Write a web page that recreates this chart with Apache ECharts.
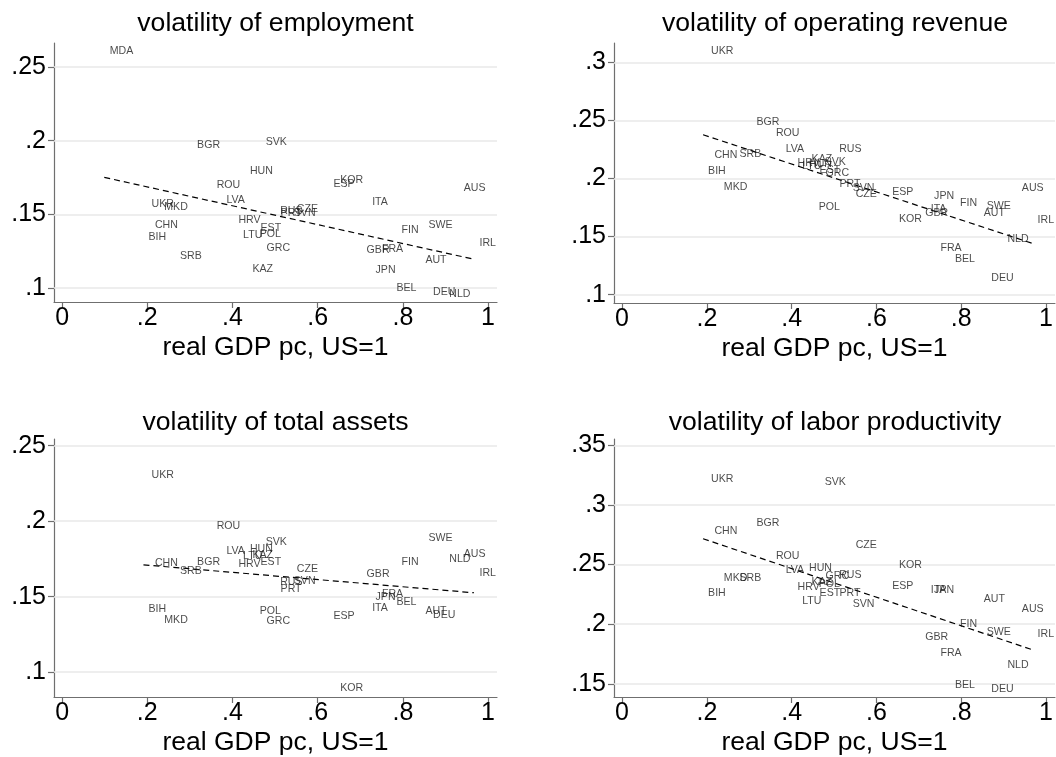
<!DOCTYPE html>
<html><head><meta charset="utf-8">
<script src="https://cdn.jsdelivr.net/npm/echarts@6/dist/echarts.min.js"></script>
<style>html,body{margin:0;padding:0;background:#fff}#c{width:1056px;height:757px}</style>
</head><body><div id="c"></div>
<script>
const countries = ['AUS','AUT','BEL','BGR','BIH','CHN','CZE','DEU','ESP','EST','FIN','FRA','GBR','GRC','HRV','HUN','IRL','ITA','JPN','KAZ','KOR','LTU','LVA','MDA','MKD','NLD','POL','PRT','ROU','RUS','SRB','SVK','SVN','SWE','UKR'];
const gdp       = [.930,.840,.772,.304,.190,.205,.538,.858,.624,.453,.784,.738,.702,.467,.401,.428,.967,.715,.723,.434,.640,.412,.373,.099,.227,.896,.451,.500,.350,.499,.264,.465,.531,.847,.197];
const volEmp    = [.1677,.1190,.1000,.1968,.1346,.1425,.1533,.0970,.1706,.1409,.1393,.1266,.1260,.1269,.1461,.1792,.1303,.1583,.1122,.1131,.1733,.1359,.1595,.2610,.1548,.0959,.1364,.1507,.1699,.1524,.1215,.1989,.1511,.1425,.1568];
const volRev    = [.1914,.1698,.1304,.2483,.2060,.2201,.1862,.1141,.1879,.2072,.1787,.1405,.1704,.2046,.2129,.2125,.1640,.1738,.1845,.2164,.1647,.2109,.2250,null,.1922,.1477,.1750,.1954,.2388,.2250,.2212,.2138,.1920,.1761,.3100];
const volAssets = [.1783,.1403,.1467,.1728,.1419,.1722,.1682,.1377,.1373,.1728,.1728,.1515,.1651,.1336,.1715,.1816,.1658,.1426,.1498,.1776,.0893,.1772,.1801,null,.1342,.1748,.1408,.1553,.1967,.1597,.1669,.1860,.1601,.1886,.2305];
const volProd   = [.2124,.2207,.1491,.2851,.2260,.2781,.2667,.1457,.2316,.2260,.1998,.1756,.1890,.2405,.2313,.2475,.1917,.2283,.2283,.2355,.2494,.2193,.2450,null,.2383,.1656,.2338,.2260,.2569,.2411,.2383,.3194,.2166,.1934,.3219];

const fitEmp    = [[0.099,0.1751],[0.967,0.1195]];
const fitRev    = [[0.191,0.2376],[0.967,0.1442]];
const fitAssets = [[0.191,0.1711],[0.967,0.1526]];
const fitProd   = [[0.191,0.2717],[0.967,0.1786]];

const titles = ['volatility of employment','volatility of operating revenue','volatility of total assets','volatility of labor productivity'];
const xTicks = [0,0.2,0.4,0.6,0.8,1];
const xTickLabels = ['0','.2','.4','.6','.8','1'];
const yTicks1 = [0.1,0.15,0.2,0.25];       const yLab1 = ['.1','.15','.2','.25'];
const yTicks2 = [0.1,0.15,0.2,0.25,0.3];   const yLab2 = ['.1','.15','.2','.25','.3'];
const yTicks3 = [0.1,0.15,0.2,0.25];       const yLab3 = ['.1','.15','.2','.25'];
const yTicks4 = [0.15,0.2,0.25,0.3,0.35];  const yLab4 = ['.15','.2','.25','.3','.35'];
const xTitle = 'real GDP pc, US=1';

const FONT = '"Liberation Sans", Arial, Helvetica, sans-serif';
const grids = [
  {left:54, top:43, width:443, height:259},
  {left:614, top:43, width:442, height:260},
  {left:54, top:439, width:443, height:260},
  {left:614, top:439, width:442, height:259}
];
const yRanges = [[0.0905,0.2663],[0.0928,0.3166],[0.0836,0.2544],[0.1389,0.3554]];
const yTickSets = [[yTicks1,yLab1],[yTicks2,yLab2],[yTicks3,yLab3],[yTicks4,yLab4]];
const vals = [volEmp, volRev, volAssets, volProd];
const fits = [fitEmp, fitRev, fitAssets, fitProd];
const titleTops = [10, 10, 409, 409];

function lab(vs, ls) { return v => { const i = vs.findIndex(t => Math.abs(t - v) < 1e-9); return i >= 0 ? ls[i] : ''; }; }
function makeData(arr) {
  const out = [];
  countries.forEach((c, i) => { if (arr[i] != null) out.push([gdp[i], arr[i], c]); });
  return out;
}
const axisCol = '#6f6f6f';
const option = {
  animation: false,
  backgroundColor: '#fff',
  title: titles.map((t, i) => ({
    text: t, left: grids[i].left + grids[i].width / 2, top: titleTops[i], textAlign: 'center', padding: 0,
    textStyle: {fontFamily: FONT, fontSize: 26.6, fontWeight: 'normal', color: '#000'}
  })),
  grid: grids,
  xAxis: grids.map((g, i) => ({
    type: 'value', gridIndex: i, min: -0.019, max: 1.021,
    name: xTitle, nameLocation: 'middle', nameGap: 32,
    nameTextStyle: {fontFamily: FONT, fontSize: 26.5, color: '#000'},
    axisLine: {show: true, onZero: false, lineStyle: {color: axisCol, width: 1.2}},
    axisTick: {show: true, length: 6, customValues: xTicks, lineStyle: {color: axisCol, width: 1.2}},
    axisLabel: {customValues: xTicks, formatter: lab(xTicks, xTickLabels), margin: 4, fontFamily: FONT, fontSize: 25, color: '#000'},
    splitLine: {show: false}
  })),
  yAxis: grids.map((g, i) => ({
    type: 'value', gridIndex: i, min: yRanges[i][0], max: yRanges[i][1],
    axisLine: {show: true, onZero: false, lineStyle: {color: axisCol, width: 1.2}},
    axisTick: {show: true, length: 6, customValues: yTickSets[i][0], lineStyle: {color: axisCol, width: 1.2}},
    axisLabel: {customValues: yTickSets[i][0], formatter: lab(yTickSets[i][0], yTickSets[i][1]), margin: 8, fontFamily: FONT, fontSize: 25, color: '#000'},
    splitLine: {show: false}
  })),
  series: []
};
grids.forEach((g, i) => {
  option.series.push({
    type: 'line', xAxisIndex: i, yAxisIndex: i, data: fits[i], z: 2,
    symbol: 'none', silent: true,
    lineStyle: {color: '#000', width: 1.2, type: [6, 4]},
    markLine: {
      silent: true, z: 1, symbol: ['none', 'none'], label: {show: false},
      lineStyle: {color: '#e8e8e8', type: 'solid', width: 1.5},
      data: yTickSets[i][0].map(v => ({yAxis: v}))
    }
  });
  option.series.push({
    type: 'scatter', xAxisIndex: i, yAxisIndex: i, data: makeData(vals[i]), z: 3,
    symbolSize: 1, itemStyle: {color: 'transparent'}, silent: true,
    label: {show: true, position: 'right', distance: 5, formatter: p => p.data[2],
      fontFamily: FONT, fontSize: 10.6, color: '#1a1a1a'}
  });
});
echarts.init(document.getElementById('c'), null, {renderer: 'canvas'}).setOption(option);
</script></body></html>
